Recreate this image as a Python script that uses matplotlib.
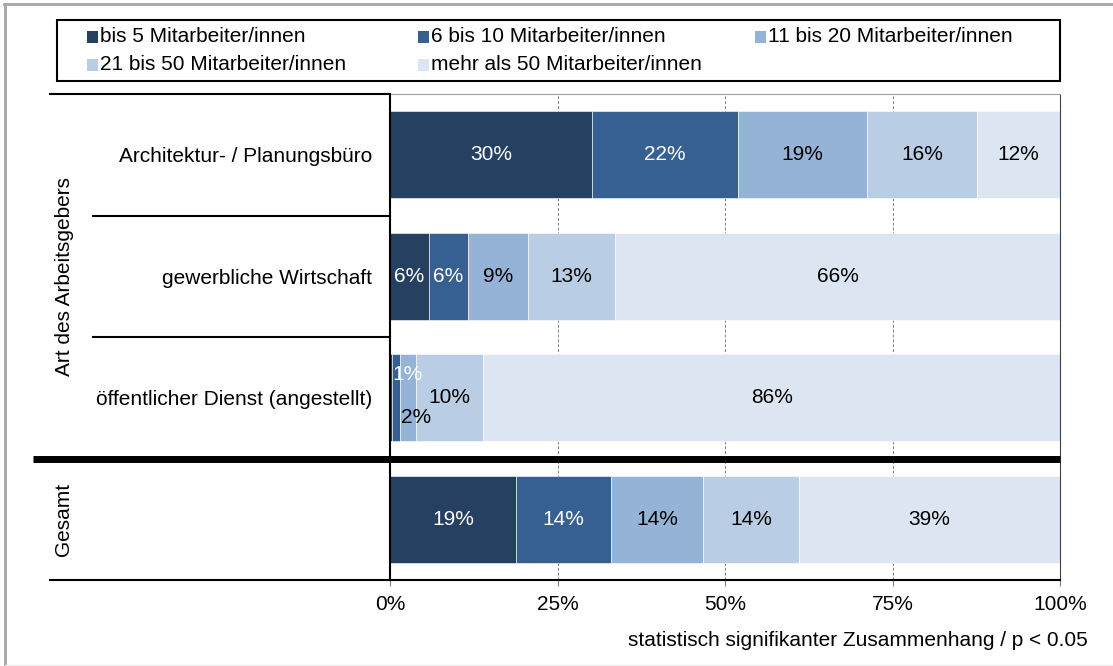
import matplotlib
matplotlib.use("Agg")
import matplotlib.pyplot as plt
from matplotlib.patches import Rectangle
from matplotlib.lines import Line2D
import matplotlib.transforms as mtransforms
import numpy as np

plt.rcParams['font.family'] = ['Liberation Sans', 'DejaVu Sans']

# ---------------- data ----------------
row_labels = ["Architektur- / Planungsbüro", "gewerbliche Wirtschaft",
              "öffentlicher Dienst (angestellt)", ""]
group_labels = ["Art des Arbeitsgebers", "Gesamt"]
series_names = ["bis 5 Mitarbeiter/innen", "6 bis 10 Mitarbeiter/innen",
                "11 bis 20 Mitarbeiter/innen", "21 bis 50 Mitarbeiter/innen",
                "mehr als 50 Mitarbeiter/innen"]
bis_5 = [30.1, 5.8, 0.3, 18.8]
bis_10 = [21.8, 5.8, 1.2, 14.2]
bis_20 = [19.3, 9.0, 2.4, 13.7]
bis_50 = [16.4, 13.0, 10.0, 14.4]
mehr_50 = [12.4, 66.4, 86.1, 38.9]
series_values = [bis_5, bis_10, bis_20, bis_50, mehr_50]
x_ticks = [0, 25, 50, 75, 100]
x_ticklabels = ["0%", "25%", "50%", "75%", "100%"]
footnote = "statistisch signifikanter Zusammenhang / p < 0.05"

colors = ["#254061", "#376092", "#95B3D7", "#B9CDE5", "#DCE6F2"]
text_colors = ["white", "white", "black", "black", "black"]

# ---------------- figure ----------------
W, H, DPI = 1113, 666, 100
fig = plt.figure(figsize=(W / DPI, H / DPI), dpi=DPI)
FS = 15


def fx(px):
    return px / W


def fy(py):
    return 1 - py / H


ax = fig.add_axes([fx(390), fy(580), fx(1060) - fx(390), fy(94) - fy(580)])
ax.set_xlim(0, 100)
ax.set_ylim(3.5, -0.5)

y = np.arange(len(row_labels))
left = np.zeros(len(row_labels))
small_count = np.zeros(len(row_labels), dtype=int)
for vals, col, tcol in zip(series_values, colors, text_colors):
    vals = np.asarray(vals, dtype=float)
    ax.barh(y, vals, left=left, height=0.715, color=col, edgecolor="white",
            linewidth=0.4, zorder=2)
    for i, (v, l) in enumerate(zip(vals, left)):
        if v < 0.5:
            continue
        lab = f"{v:.0f}%"
        if v < 3:
            off = -0.19 if small_count[i] == 0 else 0.165
            small_count[i] += 1
            ax.text(l + 0.1, y[i] + off, lab, ha="left", va="center",
                    color=tcol, fontsize=FS, zorder=3)
        else:
            ax.text(l + v / 2, y[i], lab, ha="center", va="center",
                    color=tcol, fontsize=FS, zorder=3)
    left = left + vals

# axes styling
ax.set_xticks(x_ticks, x_ticklabels)
ax.set_yticks(y, row_labels)
ax.tick_params(axis="x", direction="out", length=4, width=0.8,
               color="#808080", pad=7, labelsize=FS)
ax.tick_params(axis="y", length=0, pad=13, labelsize=FS)
ax.set_axisbelow(True)
ax.grid(axis="x", linestyle=(0, (3, 2)), color="#7f7f7f", linewidth=0.7)
ax.grid(axis="y", visible=False)
ax.spines["left"].set_linewidth(1.5)
ax.spines["left"].set_color("black")
ax.spines["bottom"].set_linewidth(1.5)
ax.spines["bottom"].set_color("black")
ax.spines["top"].set_linewidth(0.8)
ax.spines["top"].set_color("#a0a0a0")
ax.spines["right"].set_linewidth(0.8)
ax.spines["right"].set_color("#404040")

# group structure on the left
trans = mtransforms.blended_transform_factory(fig.transFigure, ax.transData)
fig.add_artist(Line2D([fx(50), fx(390)], [-0.5, -0.5], transform=trans,
                      color="black", lw=1.5))
for yy in (0.5, 1.5):
    fig.add_artist(Line2D([fx(93), fx(390)], [yy, yy], transform=trans,
                          color="black", lw=1.5))
fig.add_artist(Line2D([fx(33), fx(1060)], [2.5, 2.5], transform=trans,
                      color="black", lw=5, solid_capstyle="butt"))
fig.add_artist(Line2D([fx(50), fx(390)], [3.5, 3.5], transform=trans,
                      color="black", lw=1.5))
fig.text(fx(64), 1.0, group_labels[0], transform=trans, rotation=90,
         ha="center", va="center", fontsize=FS)
fig.text(fx(64), 3.0, group_labels[1], transform=trans, rotation=90,
         ha="center", va="center", fontsize=FS)

# legend
fig.add_artist(Rectangle((fx(57), fy(81)), fx(1060) - fx(57), fy(20) - fy(81),
                         transform=fig.transFigure, fill=False,
                         edgecolor="black", lw=1.5))
leg_pos = [(87, 37), (418, 37), (755, 37), (87, 65), (418, 65)]
for (px, py), name, col in zip(leg_pos, series_names, colors):
    fig.add_artist(Rectangle((fx(px), fy(py + 5.5)), fx(11), 11 / H,
                             transform=fig.transFigure, facecolor=col,
                             edgecolor="none"))
    fig.text(fx(px + 13), fy(py), name, ha="left", va="center", fontsize=FS)

# footnote
fig.text(fx(1088), fy(641), footnote, ha="right", va="center", fontsize=FS)

# outer frame
fig.add_artist(Line2D([fx(5), fx(5)], [fy(4), fy(666)], color="#a6a6a6", lw=2))
fig.add_artist(Line2D([fx(4), 1], [fy(4), fy(4)], color="#a6a6a6", lw=2))
fig.add_artist(Line2D([fx(5), 1], [fy(665), fy(665)], color="#ececec", lw=1))

fig.savefig("out.png", dpi=DPI)
